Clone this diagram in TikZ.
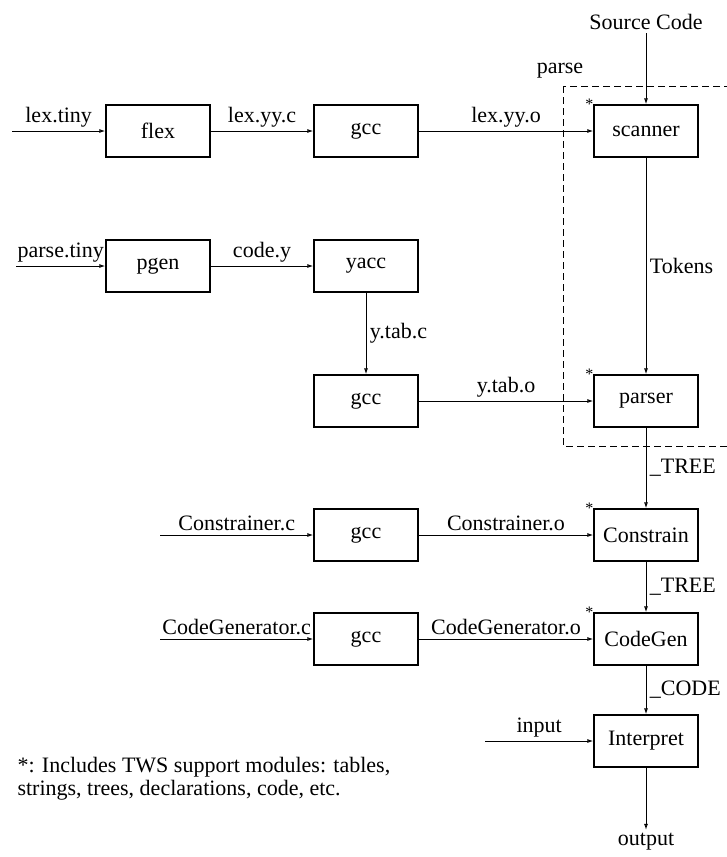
\documentclass[tikz,border=0pt]{standalone}
\usepackage{fontspec}
\setmainfont{Liberation Serif}
\usetikzlibrary{arrows.meta,positioning}

\begin{document}
\begin{tikzpicture}[x=1pt, y=-1pt, >={Latex[open,length=6pt,width=4pt]},
    every node/.style={font=\fontsize{22}{23}\selectfont},
    blk/.style={draw, line width=1.3pt, minimum width=104pt, minimum height=52pt, inner sep=0pt},
    flow/.style={->, line width=1pt},
    starmark/.style={font=\fontsize{16}{16}\selectfont, inner sep=0pt}]
    \useasboundingbox (0,0) rectangle (727,857);
    \clip (0,0) rectangle (727,857);

    % parse region
    \draw[dash pattern=on 7pt off 4pt, line width=1pt] (563,86) rectangle (760,446);
    \node (parselbl) at (560,71) {parse};

    % tool nodes
    \node[blk] (flex) at (158,131) {flex};
    \node[blk] (gcca) at (366,131) {gcc};
    \node[blk] (pgen) at (158,266) {pgen};
    \node[blk] (yacc) at (366,266) {yacc};
    \node[blk] (gccb) at (366,401) {gcc};
    \node[blk] (gccc) at (366,535) {gcc};
    \node[blk] (gccd) at (366,639) {gcc};

    % compiler nodes
    \node[blk] (scanner) at (646,131) {scanner};
    \node[blk] (parser) at (646,401) {parser};
    \node[blk] (constrain) at (646,535) {Constrain};
    \node[blk] (codegen) at (646,639) {CodeGen};
    \node[blk] (interp) at (646,741) {Interpret};

    % stars
    \node[starmark] at ([xshift=-4pt]scanner.north west) {*};
    \node[starmark] at ([xshift=-4pt]parser.north west) {*};
    \node[starmark] at ([xshift=-4pt]constrain.north west) {*};
    \node[starmark] at ([xshift=-4pt]codegen.north west) {*};

    % outside ends
    \node (src) at (646,22) {Source Code};
    \node (out) at (646,842) {output};
    \coordinate (lexin) at (12,131);
    \coordinate (parsein) at (16,266);
    \coordinate (conin) at (160,535);
    \coordinate (cgin) at (160,639);
    \coordinate (inp) at (485,741);

    % Edges
    \draw[flow] (lexin) -- node[midway, above] {lex.tiny} (flex);
    \draw[flow] (flex) -- node[midway, above] {lex.yy.c} (gcca);
    \draw[flow] (gcca) -- node[midway, above] {lex.yy.o} (scanner);
    \draw[flow] (parsein) -- node[midway, above] {parse.tiny} (pgen);
    \draw[flow] (pgen) -- node[midway, above] {code.y} (yacc);
    \draw[flow] (yacc) -- node[midway, right] {y.tab.c} (gccb);
    \draw[flow] (gccb) -- node[midway, above] {y.tab.o} (parser);
    \draw[flow] (conin) -- node[midway, above] {Constrainer.c} (gccc);
    \draw[flow] (gccc) -- node[midway, above] {Constrainer.o} (constrain);
    \draw[flow] (cgin) -- node[midway, above] {CodeGenerator.c} (gccd);
    \draw[flow] (gccd) -- node[midway, above] {CodeGenerator.o} (codegen);
    \draw[flow] (inp) -- node[midway, above] {input} (interp);
    \draw[flow] (src) -- (scanner);
    \draw[flow] (scanner) -- node[midway, right] {Tokens} (parser);
    \draw[flow] (parser) -- node[midway, right] {\_TREE} (constrain);
    \draw[flow] (constrain) -- node[midway, right] {\_TREE} (codegen);
    \draw[flow] (codegen) -- node[midway, right] {\_CODE} (interp);
    \draw[flow] (interp) -- (out);

    % note
    \node[anchor=west, align=left] (note) at (14,779) {*: Includes TWS support modules: tables,\\strings, trees, declarations, code, etc.};
\end{tikzpicture}
\end{document}
